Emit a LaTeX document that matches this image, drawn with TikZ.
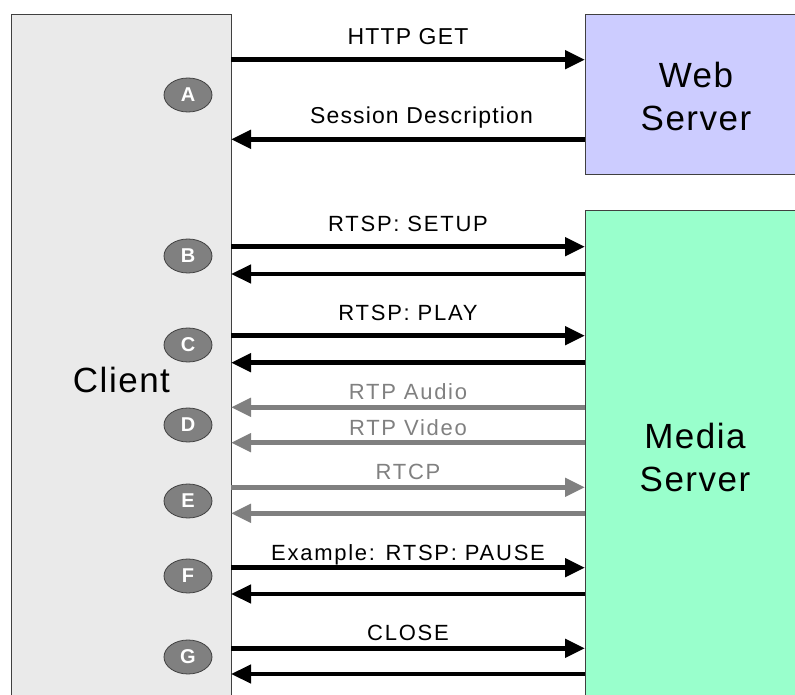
\documentclass[tikz,border=0pt]{standalone}
\usepackage{fontspec}
\setmainfont{Liberation Sans}
\newfontfamily\lblfont[LetterSpace=8]{Liberation Sans}
\newfontfamily\toplblfont[LetterSpace=5]{Liberation Sans}
\newfontfamily\bigfont[LetterSpace=4.3]{Liberation Sans}
\usetikzlibrary{arrows.meta,shapes.geometric}
\definecolor{clientgray}{HTML}{EAEAEA}
\definecolor{webblue}{HTML}{CCCCFF}
\definecolor{mediagreen}{HTML}{99FFCC}
\definecolor{rtpgray}{HTML}{808080}
\definecolor{edgegray}{HTML}{404040}

\begin{document}
\begin{tikzpicture}[x=1pt,y=-1pt,
box/.style={draw=edgegray,line width=1pt,anchor=north west,inner sep=0pt,outer sep=0pt},
bigtxt/.style={align=center,font=\bigfont\fontsize{35}{43}\selectfont},
msg/.style={line width=4.5pt,-{Triangle[length=20pt,width=18pt]}},
rtp/.style={msg,draw=rtpgray},
toplbl/.style={midway,anchor=base,yshift=15.3pt,font=\toplblfont\fontsize{23}{28}\selectfont},
lbl/.style={midway,anchor=base,yshift=15.3pt,font=\lblfont\fontsize{22}{26}\selectfont},
lowlbl/.style={midway,anchor=base,yshift=7.5pt,font=\lblfont\fontsize{22}{26}\selectfont},
rtplbl/.style={lowlbl,text=rtpgray},
tag/.style={ellipse,draw=edgegray,line width=.8pt,fill=rtpgray,text=white,inner sep=0pt,
  minimum width=48pt,minimum height=34pt,font=\bfseries\fontsize{20}{24}\selectfont}]
\useasboundingbox (0,0) rectangle (795,695);

% the three parties
\node[box,fill=clientgray,minimum width=220pt,minimum height=700pt] (client) at (11,15) {};
\node[box,fill=webblue,minimum width=230pt,minimum height=160pt] (web) at (585,15) {};
\node[box,fill=mediagreen,minimum width=230pt,minimum height=500pt] (media) at (585,211) {};
\node[bigtxt] (clienttxt) at (121.5,380) {Client};
\node[bigtxt] (webtxt) at (696,96) {Web\\Server};
\node[bigtxt] (mediatxt) at (695,457) {Media\\Server};

% steps
\node[tag] (tagA) at (188,95) {A};
\node[tag] (tagB) at (188,256) {B};
\node[tag] (tagC) at (188,345) {C};
\node[tag] (tagD) at (188,425) {D};
\node[tag] (tagE) at (188,501) {E};
\node[tag] (tagF) at (188,576) {F};
\node[tag] (tagG) at (188,657) {G};

% messages
\draw[msg] (client.east|-0,59.7) -- (web.west|-0,59.7) node[toplbl]{HTTP GET};
\draw[msg] (web.west|-0,139.3) -- (client.east|-0,139.3) node[toplbl,xshift=13.5pt]{Session Description};
\draw[msg] (client.east|-0,246.7) -- (media.west|-0,246.7) node[lbl]{RTSP: SETUP};
\draw[msg] (media.west|-0,274) -- (client.east|-0,274);
\draw[msg] (client.east|-0,335.7) -- (media.west|-0,335.7) node[lbl]{RTSP: PLAY};
\draw[msg] (media.west|-0,362.7) -- (client.east|-0,362.7);
\draw[rtp] (media.west|-0,407.3) -- (client.east|-0,407.3) node[rtplbl]{RTP Audio};
\draw[rtp] (media.west|-0,442.7) -- (client.east|-0,442.7) node[rtplbl]{RTP Video};
\draw[rtp] (client.east|-0,487.3) -- (media.west|-0,487.3) node[rtplbl]{RTCP};
\draw[rtp] (media.west|-0,513.3) -- (client.east|-0,513.3);
\draw[msg] (client.east|-0,567.7) -- (media.west|-0,567.7) node[lowlbl]{Example: RTSP: PAUSE};
\draw[msg] (media.west|-0,594) -- (client.east|-0,594);
\draw[msg] (client.east|-0,648.3) -- (media.west|-0,648.3) node[lowlbl]{CLOSE};
\draw[msg] (media.west|-0,674) -- (client.east|-0,674);
\end{tikzpicture}
\end{document}
